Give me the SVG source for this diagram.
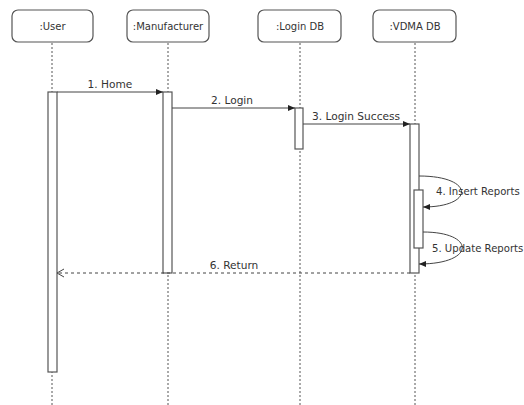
<svg xmlns="http://www.w3.org/2000/svg" width="524" height="405" viewBox="0 0 524 405">
<defs>
<style>
text{font-family:"DejaVu Sans","Noto Sans",sans-serif;font-size:10.6px;fill:#333}
.name{font-size:10px}
.self{font-size:10.1px}
.box{fill:#fff;stroke:#555;stroke-width:1.2}
.life{stroke:#555;stroke-width:1;stroke-dasharray:2,2;fill:none}
.act{fill:#fff;stroke:#555;stroke-width:1.2}
.msg{stroke:#444;stroke-width:1;fill:none}
.ret{stroke:#444;stroke-width:1;fill:none;stroke-dasharray:3,3}
.lbl{text-anchor:middle}
</style>
<marker id="fill" markerWidth="8" markerHeight="8" refX="7" refY="4" orient="auto" markerUnits="userSpaceOnUse">
<path d="M0,1 L7,4 L0,7 Z" fill="#222"/>
</marker>
<marker id="open" markerWidth="10" markerHeight="10" refX="8" refY="5" orient="auto" markerUnits="userSpaceOnUse">
<path d="M1,1 L8,5 L1,9" fill="none" stroke="#444" stroke-width="1"/>
</marker>
</defs>
<g id="lifelines">
<line class="life" x1="52" y1="43" x2="52" y2="405"/>
<line class="life" x1="168" y1="43" x2="168" y2="405"/>
<line class="life" x1="300" y1="43" x2="300" y2="405"/>
<line class="life" x1="415" y1="43" x2="415" y2="405"/>
</g>
<g id="user"><rect class="box" x="12" y="10" width="81" height="32" rx="6"/><text class="lbl name" x="52.5" y="30">:User</text></g>
<g id="manufacturer"><rect class="box" x="127" y="10" width="82" height="32" rx="6"/><text class="lbl name" x="168" y="30">:Manufacturer</text></g>
<g id="logindb"><rect class="box" x="258" y="10" width="83" height="32" rx="6"/><text class="lbl name" x="300" y="30">:Login DB</text></g>
<g id="vdmadb"><rect class="box" x="373" y="10" width="83" height="32" rx="6"/><text class="lbl name" x="415" y="30">:VDMA DB</text></g>
<g id="activations">
<rect class="act" x="48" y="92" width="9" height="280"/>
<rect class="act" x="163" y="92" width="9" height="181"/>
<rect class="act" x="295" y="108" width="8" height="41"/>
<rect class="act" x="410" y="124" width="9" height="149"/>
<rect class="act" x="414" y="190" width="9" height="58"/>
</g>
<g id="connectors">
<line class="msg" x1="57" y1="92" x2="163" y2="92" marker-end="url(#fill)"/>
<text class="lbl" x="110" y="88">1. Home</text>
<line class="msg" x1="172" y1="108" x2="295" y2="108" marker-end="url(#fill)"/>
<text class="lbl" x="232" y="104">2. Login</text>
<line class="msg" x1="303" y1="124" x2="410" y2="124" marker-end="url(#fill)"/>
<text class="lbl" x="356" y="120">3. Login Success</text>
<path class="msg" d="M419,176 C475,176 475,207 423,207" marker-end="url(#fill)"/>
<text class="self" x="436" y="195">4. Insert Reports</text>
<path class="msg" d="M423,232 C476,232 476,264 419,264" marker-end="url(#fill)"/>
<text class="self" x="432" y="252">5. Update Reports</text>
<line class="ret" x1="410" y1="273" x2="57" y2="273" marker-end="url(#open)"/>
<text class="lbl" x="234" y="269">6. Return</text>
</g>
</svg>
